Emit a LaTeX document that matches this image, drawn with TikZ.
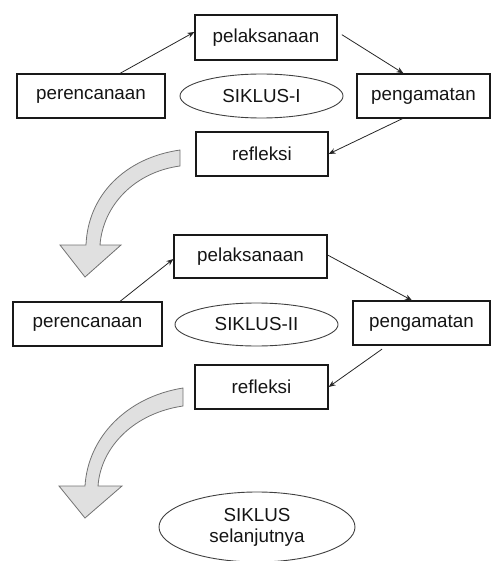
\documentclass[tikz,border=0pt]{standalone}
\usepackage{fontspec}
\setmainfont{Liberation Sans}
\usetikzlibrary{arrows.meta,shapes.geometric}
\begin{document}
\begin{tikzpicture}[x=1pt,y=-1pt,
  lbl/.style={font=\fontsize{18.8}{21}\selectfont, text=black!92, inner sep=0pt},
  box/.style={lbl, draw=black!90, line width=1.2pt, rectangle},
  oval/.style={lbl, draw=black!75, line width=0.9pt, ellipse},
  conn/.style={draw=black!85, line width=0.8pt, -{Stealth[length=7pt,width=5.5pt]}},
  bigarrow/.style={fill=black!12, draw=black!55, line width=0.8pt, line join=miter}]
\useasboundingbox (0,0) rectangle (492,561);

% ---- Cycle I ----
\node[box, minimum width=142pt, minimum height=45pt] (pel1) at (266,37.5) {pelaksanaan};
\node[box, minimum width=148pt, minimum height=44pt] (per1) at (91,96) {perencanaan};
\node[oval, minimum width=163pt, minimum height=44pt] (sik1) at (261.5,96) {SIKLUS-I};
\node[box, minimum width=133pt, minimum height=44pt] (pen1) at (423.5,96) {pengamatan};
\node[box, minimum width=132pt, minimum height=44pt] (ref1) at (262,154) {refleksi};

\draw[conn] ([xshift=29pt]per1.north) -- ([yshift=5.5pt]pel1.west);
\draw[conn, shorten <=5pt] ([yshift=5.5pt]pel1.east) -- ([xshift=-20pt]pen1.north);
\draw[conn] ([xshift=-21pt]pen1.south) -- (ref1.east);

% big curved arrow I
\draw[bigarrow] (180,150) .. controls (125,158) and (88,195) .. (86,245)
  -- (60,245) -- (85,277) -- (121,245) -- (100,245)
  .. controls (103,205) and (135,172) .. (180,166) -- cycle;

% ---- Cycle II ----
\node[box, minimum width=153pt, minimum height=43pt] (pel2) at (250.5,256.5) {pelaksanaan};
\node[box, minimum width=149pt, minimum height=44pt] (per2) at (87.5,324) {perencanaan};
\node[oval, minimum width=163pt, minimum height=43pt] (sik2) at (256.5,324.5) {SIKLUS-II};
\node[box, minimum width=137pt, minimum height=44pt] (pen2) at (421.5,323) {pengamatan};
\node[box, minimum width=133pt, minimum height=44pt] (ref2) at (261.5,387) {refleksi};

\draw[conn] ([xshift=32.5pt]per2.north) -- ([yshift=-2.5pt]pel2.west);
\draw[conn] ([yshift=1.5pt]pel2.east) -- ([xshift=-9.5pt]pen2.north);
\draw[conn, shorten <=6pt] ([xshift=-34.5pt]pen2.south) -- (ref2.east);

% big curved arrow II
\draw[bigarrow] (183,388) .. controls (127,397) and (88,437) .. (85,486)
  -- (59,486) -- (85,518) -- (122,486) -- (98,486)
  .. controls (101,446) and (135,413) .. (183,406) -- cycle;

% ---- next cycle ----
\node[oval, align=center, minimum width=196pt, minimum height=70pt] (sik3) at (257,527)
  {SIKLUS\\selanjutnya};
\end{tikzpicture}
\end{document}
